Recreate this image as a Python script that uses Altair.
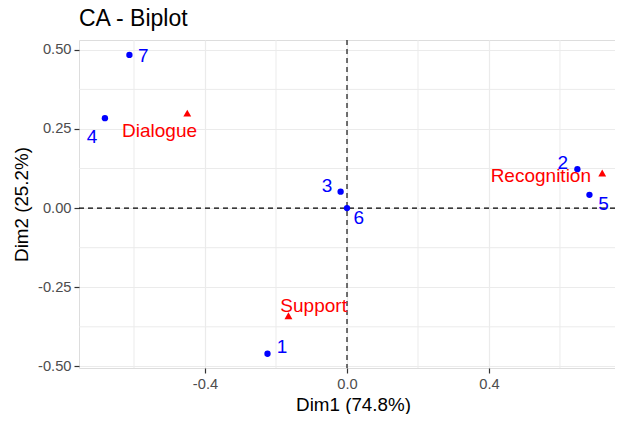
import altair as alt
import pandas as pd

# ---- data ----
row_labels = ["1", "2", "3", "4", "5", "6", "7"]
row_dim1 = [-0.224, 0.649, -0.018, -0.682, 0.683, 0.000, -0.613]
row_dim2 = [-0.460, 0.123, 0.052, 0.284, 0.042, 0.000, 0.484]
# repelled label anchors (data units)
row_label_dim1 = [-0.183, 0.608, -0.056, -0.718, 0.723, 0.033, -0.574]
row_label_dim2 = [-0.438, 0.143, 0.069, 0.225, 0.012, -0.030, 0.479]

col_labels = ["Dialogue", "Recognition", "Support"]
col_dim1 = [-0.450, 0.719, -0.165]
col_dim2 = [0.300, 0.111, -0.340]
col_label_dim1 = [-0.528, 0.546, -0.094]
col_label_dim2 = [0.245, 0.100, -0.308]

x_major = [-0.4, 0.0, 0.4]
x_minor = [-0.6, -0.2, 0.2, 0.6]
y_major = [-0.5, -0.25, 0.0, 0.25, 0.5]
y_minor = [-0.375, -0.125, 0.125, 0.375]

FONT = "Liberation Sans"

rows = pd.DataFrame({"x": row_dim1, "y": row_dim2, "label": row_labels})
rows_lab = pd.DataFrame({"x": row_label_dim1, "y": row_label_dim2, "label": row_labels})
cols = pd.DataFrame({"x": col_dim1, "y": col_dim2, "label": col_labels})
cols_lab = pd.DataFrame({"x": col_label_dim1, "y": col_label_dim2, "label": col_labels})

xs = alt.Scale(domain=[-0.755, 0.755], nice=False, zero=False)
ys = alt.Scale(domain=[-0.505, 0.531], nice=False, zero=False)

common_axis = dict(
    domain=False, grid=True, gridColor="#EBEBEB", gridWidth=1.2,
    ticks=True, tickColor="#333333", tickSize=5, tickWidth=1.2,
    labelFont=FONT, labelFontSize=14.7, labelColor="#4D4D4D", labelPadding=3,
    titleFont=FONT, titleFontSize=18.8, titleColor="black", titleFontWeight="normal",
)
x_axis = alt.Axis(values=x_major, title="Dim1 (74.8%)",
                  labelExpr="replace(format(datum.value, '.1f'), '\u2212', '-')",
                  titlePadding=5, titleX=274, **common_axis)
y_axis = alt.Axis(values=y_major, title="Dim2 (25.2%)",
                  labelExpr="replace(format(datum.value, '.2f'), '\u2212', '-')",
                  titlePadding=6, **common_axis)

X = alt.X("x:Q", scale=xs, axis=x_axis)
Y = alt.Y("y:Q", scale=ys, axis=y_axis)

minor_x = alt.Chart(pd.DataFrame({"x": x_minor})).mark_rule(
    color="#EBEBEB", strokeWidth=1.0).encode(x=X)
minor_y = alt.Chart(pd.DataFrame({"y": y_minor})).mark_rule(
    color="#EBEBEB", strokeWidth=1.0).encode(y=Y)

zero_v = alt.Chart(pd.DataFrame({"x": [0.0]})).mark_rule(
    color="black", strokeWidth=1.1, strokeDash=[5, 4]).encode(x=X)
zero_h = alt.Chart(pd.DataFrame({"y": [0.0]})).mark_rule(
    color="black", strokeWidth=1.1, strokeDash=[5, 4]).encode(y=Y)

row_pts = alt.Chart(rows).mark_point(
    shape="circle", filled=True, color="blue", size=40, opacity=1).encode(x=X, y=Y)
col_pts = alt.Chart(cols).mark_point(
    shape="triangle-up", filled=True, color="red", size=62, opacity=1).encode(x=X, y=Y)

row_txt = alt.Chart(rows_lab).mark_text(
    font=FONT, fontSize=19, color="blue", align="center", baseline="middle").encode(
    x=X, y=Y, text="label:N")
col_txt = alt.Chart(cols_lab).mark_text(
    font=FONT, fontSize=19, color="red", align="center", baseline="middle").encode(
    x=X, y=Y, text="label:N")

chart = alt.layer(
    minor_x, minor_y, zero_v, zero_h, row_pts, col_pts, row_txt, col_txt
).properties(
    width=536, height=328,
    title=alt.TitleParams("CA - Biplot", anchor="start", frame="group", font=FONT,
                          fontSize=23, fontWeight="normal", color="black", offset=8),
    autosize=alt.AutoSizeParams(type="none"),
    padding={"left": 71, "top": 32, "right": 0, "bottom": 46},
).configure_view(stroke=None).configure(background="white")

chart.save("out.html", embed_options={"renderer": "svg", "actions": False})
